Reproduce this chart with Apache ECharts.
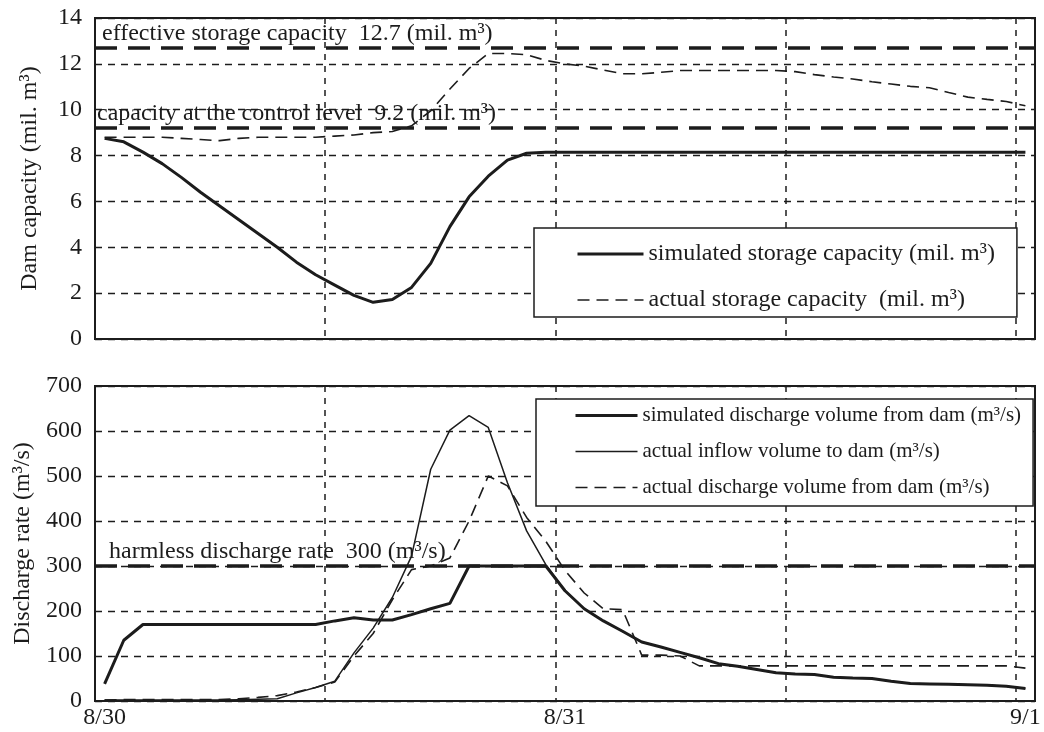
<!DOCTYPE html>
<html>
<head>
<meta charset="utf-8">
<script src="https://cdn.jsdelivr.net/npm/echarts@6/dist/echarts.min.js"></script>
<style>
html,body{margin:0;padding:0;background:#fff;}
#chart{width:1044px;height:732px;}
</style>
</head>
<body>
<div id="chart"></div>
<script>
// hourly categories from 8/30 0:00 to 9/1 0:00
var hours = [
 '8/30 0:00','8/30 1:00','8/30 2:00','8/30 3:00','8/30 4:00','8/30 5:00','8/30 6:00','8/30 7:00',
 '8/30 8:00','8/30 9:00','8/30 10:00','8/30 11:00','8/30 12:00','8/30 13:00','8/30 14:00','8/30 15:00',
 '8/30 16:00','8/30 17:00','8/30 18:00','8/30 19:00','8/30 20:00','8/30 21:00','8/30 22:00','8/30 23:00',
 '8/31 0:00','8/31 1:00','8/31 2:00','8/31 3:00','8/31 4:00','8/31 5:00','8/31 6:00','8/31 7:00',
 '8/31 8:00','8/31 9:00','8/31 10:00','8/31 11:00','8/31 12:00','8/31 13:00','8/31 14:00','8/31 15:00',
 '8/31 16:00','8/31 17:00','8/31 18:00','8/31 19:00','8/31 20:00','8/31 21:00','8/31 22:00','8/31 23:00',
 '9/1 0:00'
];
var dayLabels = {'8/30 0:00':'8/30','8/31 0:00':'8/31','9/1 0:00':'9/1'};

// Dam capacity (mil. m3)
var storageSimulated = [
 8.75,8.6,8.15,7.65,7.05,6.4,5.8,5.2,4.6,4.0,3.35,2.8,2.35,1.9,1.6,1.72,
 2.25,3.3,4.9,6.2,7.1,7.8,8.1,8.15,8.15,8.15,8.15,8.15,8.15,8.15,8.15,8.15,
 8.15,8.15,8.15,8.15,8.15,8.15,8.15,8.15,8.15,8.15,8.15,8.15,8.15,8.15,8.15,8.15,
 8.15
];
var storageActual = [
 8.8,8.8,8.8,8.8,8.75,8.7,8.65,8.75,8.8,8.8,8.8,8.8,8.85,8.9,9.0,9.05,
 9.3,9.95,10.9,11.8,12.45,12.45,12.4,12.15,12.0,11.9,11.73,11.57,11.57,11.63,11.71,11.71,
 11.71,11.71,11.71,11.71,11.66,11.53,11.43,11.34,11.22,11.12,11.02,10.96,10.75,10.55,10.45,10.36,
 10.17
];
// Discharge rate (m3/s)
var dischargeSimulated = [
 38,135,170,170,170,170,170,170,170,170,170,170,178,185,180,180,
 192,205,217,300,300,300,300,300,245,205,178,155,131,120,108,96,
 83,77,70,63,60,59,53,51,50,44,39,38,37,36,35,33,
 28
];
var inflowActual = [
 2,2,2,2,2,2,2,3,4,5,18,30,44,107,162,230,
 322,515,602,634,608,485,378,303,245,205,178,155,131,120,108,96,
 83,77,70,63,60,59,53,51,50,44,39,38,37,36,35,33,
 28
];
var dischargeActual = [
 2,3,3,3,3,3,3,5,8,12,20,30,42,100,150,225,
 292,300,318,400,500,478,408,355,290,240,205,203,102,102,100,78,
 78,78,78,78,78,78,78,78,78,78,78,78,78,78,78,78,
 73
];

var capacityTicks = [0,2,4,6,8,10,12,14];
var dischargeTicks = [0,100,200,300,400,500,600,700];
var effectiveCapacity = 12.7;
var controlCapacity = 9.2;
var harmlessDischarge = 300;

var FONT = '"Liberation Serif", "DejaVu Serif", serif';
var INK = '#1c1c1c';

function xAxisFor(gridIndex, showLabels) {
  return {
    type: 'category', gridIndex: gridIndex, data: hours, boundaryGap: true,
    axisLine: {show: true, lineStyle: {color: INK, width: 2}},
    axisTick: {show: false},
    axisLabel: {
      show: showLabels, fontFamily: FONT, fontSize: 24, color: INK, margin: 5,
      interval: function (i) { return i % 24 === 0; },
      formatter: function (v) { return dayLabels[v] || ''; }
    },
    splitLine: {
      show: true,
      interval: function (i) { return i % 12 === 0 && i > 0; },
      lineStyle: {color: INK, width: 1.5, type: [6, 6]}
    }
  };
}
function yAxisFor(gridIndex, ticks, name, gap) {
  return {
    type: 'value', gridIndex: gridIndex,
    min: ticks[0], max: ticks[ticks.length - 1], interval: ticks[1] - ticks[0],
    name: name, nameLocation: 'middle', nameGap: gap, nameRotate: 90,
    nameTextStyle: {fontFamily: FONT, fontSize: 24, color: INK},
    axisLine: {show: true, lineStyle: {color: INK, width: 2}},
    axisTick: {show: false},
    axisLabel: {fontFamily: FONT, fontSize: 24, color: INK, margin: 13},
    splitLine: {show: true, lineStyle: {color: INK, width: 1.3, type: [7, 6]}}
  };
}
function refLabel(text, pad) {
  return {
    show: true, position: 'insideStartTop', distance: 2,
    formatter: text, fontFamily: FONT, fontSize: 24, color: INK,
    padding: [0, 0, 0, pad]
  };
}
var refLineStyle = {color: INK, width: 3.5, type: [22, 11]};
var thickKey = {color: INK, width: 3, type: 'solid'};
var thinKey = {color: INK, width: 1.5, type: 'solid'};
var dashKey = {color: INK, width: 1.6, type: [12, 7]};

var option = {
  backgroundColor: '#fff',
  animation: false,
  grid: [
    {left: 95, right: 9, top: 18, height: 321, show: true, borderColor: INK, borderWidth: 2, backgroundColor: 'transparent'},
    {left: 95, right: 9, top: 386, height: 315, show: true, borderColor: INK, borderWidth: 2, backgroundColor: 'transparent'}
  ],
  xAxis: [xAxisFor(0, false), xAxisFor(1, true)],
  yAxis: [
    yAxisFor(0, capacityTicks, 'Dam capacity (mil. m³)', 53),
    yAxisFor(1, dischargeTicks, 'Discharge rate (m³/s)', 57)
  ],
  legend: [
    {
      left: 534, top: 228, orient: 'vertical',
      data: [
        {name: 'simulated storage capacity (mil. m³)', lineStyle: thickKey},
        {name: 'actual storage capacity  (mil. m³)', lineStyle: dashKey}
      ],
      itemWidth: 66, itemHeight: 24, itemGap: 22,
      padding: [14, 22, 5, 42],
      itemStyle: {opacity: 0},
      borderColor: INK, borderWidth: 1.5, backgroundColor: '#fff',
      textStyle: {fontFamily: FONT, fontSize: 24, lineHeight: 24, color: INK},
      selectedMode: false
    },
    {
      left: 536, top: 399, orient: 'vertical',
      data: [
        {name: 'simulated discharge volume from dam (m³/s)', lineStyle: thickKey},
        {name: 'actual inflow volume to dam (m³/s)', lineStyle: thinKey},
        {name: 'actual discharge volume from dam (m³/s)', lineStyle: dashKey}
      ],
      itemWidth: 62, itemHeight: 21, itemGap: 15,
      padding: [6, 12, 8, 38],
      itemStyle: {opacity: 0},
      borderColor: INK, borderWidth: 1.5, backgroundColor: '#fff',
      textStyle: {fontFamily: FONT, fontSize: 21, lineHeight: 21, color: INK},
      selectedMode: false
    }
  ],
  series: [
    {
      name: 'simulated storage capacity (mil. m³)', type: 'line',
      xAxisIndex: 0, yAxisIndex: 0, data: storageSimulated,
      symbol: 'none', color: INK, lineStyle: {color: INK, width: 3}, z: 3,
      markLine: {
        silent: true, symbol: 'none', lineStyle: refLineStyle, z: 2,
        data: [
          {yAxis: effectiveCapacity, label: refLabel('effective storage capacity  12.7 (mil. m³)', 5)},
          {yAxis: controlCapacity, label: refLabel('capacity at the control level  9.2 (mil. m³)', 0)}
        ]
      }
    },
    {
      name: 'actual storage capacity  (mil. m³)', type: 'line',
      xAxisIndex: 0, yAxisIndex: 0, data: storageActual,
      symbol: 'none', color: INK, lineStyle: {color: INK, width: 1.6, type: [12, 7]}, z: 3
    },
    {
      name: 'simulated discharge volume from dam (m³/s)', type: 'line',
      xAxisIndex: 1, yAxisIndex: 1, data: dischargeSimulated,
      symbol: 'none', color: INK, lineStyle: {color: INK, width: 3}, z: 4,
      markLine: {
        silent: true, symbol: 'none', lineStyle: refLineStyle, z: 2,
        data: [
          {yAxis: harmlessDischarge, label: refLabel('harmless discharge rate  300 (m³/s)', 12)}
        ]
      }
    },
    {
      name: 'actual inflow volume to dam (m³/s)', type: 'line',
      xAxisIndex: 1, yAxisIndex: 1, data: inflowActual,
      symbol: 'none', color: INK, lineStyle: {color: INK, width: 1.5}, z: 3
    },
    {
      name: 'actual discharge volume from dam (m³/s)', type: 'line',
      xAxisIndex: 1, yAxisIndex: 1, data: dischargeActual,
      symbol: 'none', color: INK, lineStyle: {color: INK, width: 1.6, type: [12, 7]}, z: 3
    }
  ]
};
var chart = echarts.init(document.getElementById('chart'), null, {renderer: 'canvas'});
chart.setOption(option);
</script>
</body>
</html>
